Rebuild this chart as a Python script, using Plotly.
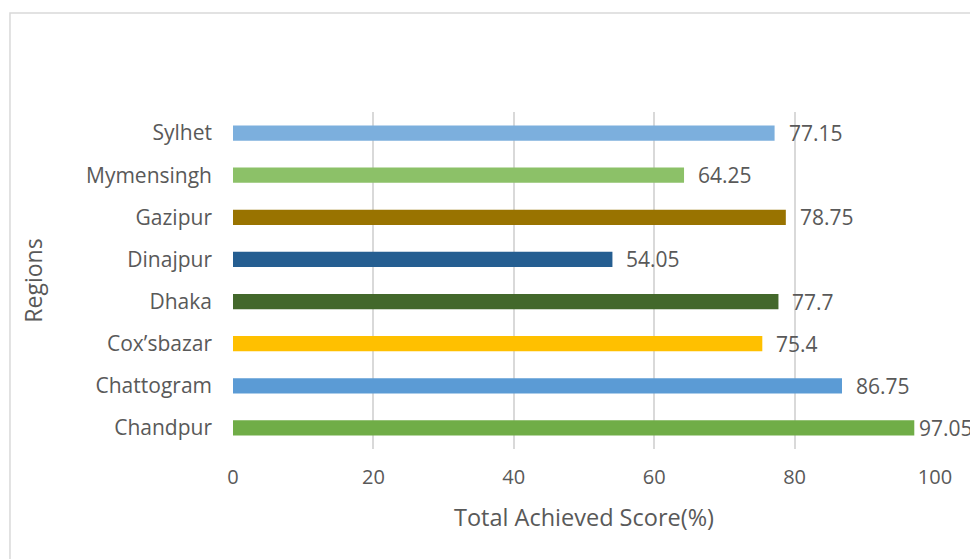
import plotly.graph_objects as go

regions = ["Chandpur", "Chattogram", "Cox\u2019sbazar", "Dhaka", "Dinajpur", "Gazipur", "Mymensingh", "Sylhet"]
scores = [97.05, 86.75, 75.4, 77.7, 54.05, 78.75, 64.25, 77.15]
labels = ["97.05", "86.75", "75.4", "77.7", "54.05", "78.75", "64.25", "77.15"]
colors = ["#70AD47", "#5B9BD5", "#FFC000", "#43682B", "#255E91", "#997300", "#8CC168", "#7CAFDD"]
x_ticks = [0, 20, 40, 60, 80, 100]

FONT = "Open Sans"
GREY = "#595959"

fig = go.Figure()
fig.add_trace(go.Bar(
    y=regions, x=scores, orientation="h",
    marker=dict(color=colors, line=dict(width=0)),
    width=0.36, hoverinfo="skip",
))

for r, v, t in zip(regions, scores, labels):
    # labels near the right edge are nudged inward (as in the source chart)
    shift = 3 if v > 95 else 12
    fig.add_annotation(x=v, y=r, text=t, showarrow=False, xanchor="left",
                       xshift=shift, font=dict(family=FONT, size=21, color=GREY))

fig.add_shape(type="rect", xref="paper", yref="paper",
              x0=-0.3177, y0=-1.0, x1=2.0, y1=1.2938,
              line=dict(color="#D9D9D9", width=1.5), fillcolor="rgba(0,0,0,0)", layer="below")

fig.update_layout(
    width=970, height=559,
    margin=dict(l=233, r=35, t=112, b=110),
    paper_bgcolor="white", plot_bgcolor="white",
    showlegend=False,
    font=dict(family=FONT, color=GREY),
    xaxis=dict(range=[0, 100], tickvals=x_ticks, showgrid=True, gridcolor="#D9D9D9",
               gridwidth=1.5, zeroline=False, showline=False,
               tickfont=dict(size=20, color=GREY), ticklabelstandoff=14,
               title=dict(text="Total Achieved Score(%)", font=dict(size=23.5, color=GREY), standoff=20)),
    yaxis=dict(categoryorder="array", categoryarray=regions, showgrid=False,
               zeroline=False, showline=False, tickfont=dict(size=21, color=GREY),
               ticklabelstandoff=20,
               title=dict(text="Regions", font=dict(size=23, color=GREY), standoff=36)),
)

fig.write_html("out.html", config={"displayModeBar": False},
               post_script="document.body.style.margin='0';document.body.style.overflow='hidden';")
